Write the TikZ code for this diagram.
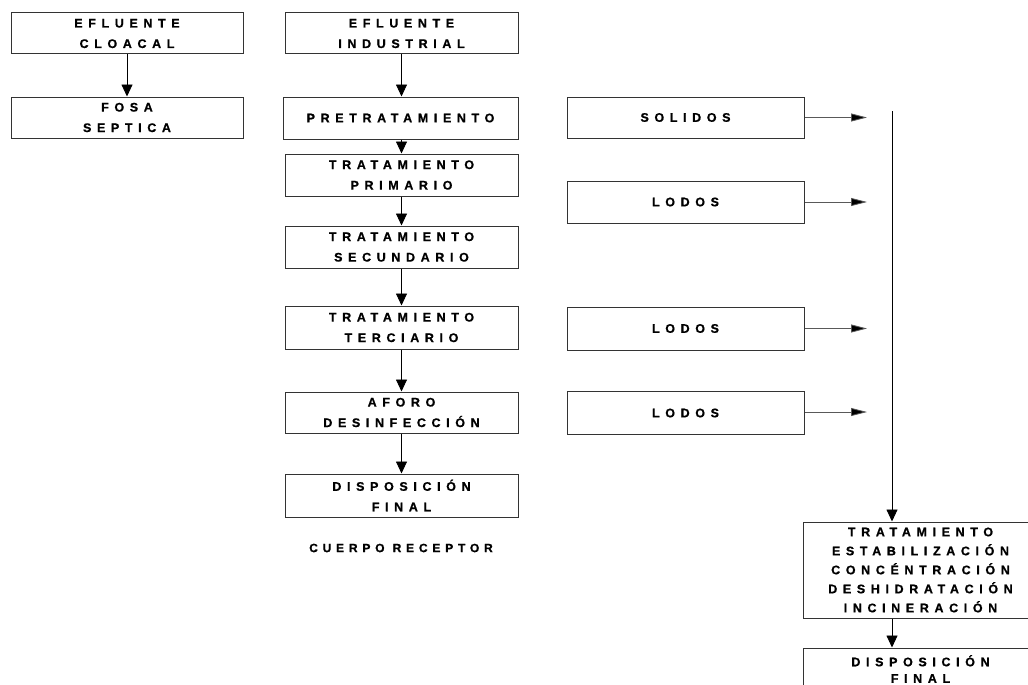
\documentclass[tikz,border=0pt]{standalone}
\usepackage{fontspec}
\usetikzlibrary{arrows.meta}
\newfontfamily\spacedfont{Liberation Sans}[UprightFont={* Bold}, LetterSpace=45, FakeBold=0.8]
\newfontfamily\notefont{Liberation Sans}[UprightFont={* Bold}, LetterSpace=40, FakeBold=0.8]
\tikzset{
  stage/.style={draw=black!80, line width=1pt, inner sep=0pt, align=center,
    minimum width=233pt, minimum height=42pt,
    font=\spacedfont\fontsize{12.5}{20.5}\selectfont},
  flow/.style={draw=black, line width=0.9pt, -{Triangle[length=12pt,width=11pt]}},
  side/.style={draw=black!65, line width=0.8pt, -{Triangle[length=16pt,width=8pt,fill=black]}},
  note/.style={inner sep=0pt, font=\notefont\fontsize{12}{14}\selectfont}
}
\begin{document}
\begin{tikzpicture}[x=1pt, y=-1pt]
  \useasboundingbox (0,0) rectangle (1028,685);
  \clip (0,0) rectangle (1028,685);

  % domestic branch
  \node[stage, minimum width=232pt, minimum height=41pt] (cloacal) at (127,33.5) {EFLUENTE\\CLOACAL};
  \node[stage, minimum width=232pt, minimum height=41pt] (fosa) at (127,117.5) {FOSA\\SEPTICA};

  % industrial treatment line
  \node[stage, minimum height=41pt] (industrial) at (401.5,33.5) {EFLUENTE\\INDUSTRIAL};
  \node[stage, minimum width=235pt] (pre) at (400.5,118) {PRETRATAMIENTO};
  \node[stage] (prim) at (401.5,175) {TRATAMIENTO\\PRIMARIO};
  \node[stage] (sec) at (401.5,247) {TRATAMIENTO\\SECUNDARIO};
  \node[stage, minimum height=43pt] (ter) at (401.5,327.5) {TRATAMIENTO\\TERCIARIO};
  \node[stage, minimum height=41pt] (afo) at (401.5,412.5) {AFORO\\DESINFECCIÓN};
  \node[stage, minimum height=43pt] (disp) at (401.5,495.5) {DISPOSICIÓN\\FINAL};
  \node[note] (cuerpo) at (401,548) {CUERPO RECEPTOR};

  % by-products
  \node[stage, minimum width=237pt, minimum height=41pt] (sol) at (685.5,117.5) {SOLIDOS};
  \node[stage, minimum width=237pt] (lod1) at (685.5,202) {LODOS};
  \node[stage, minimum width=237pt, minimum height=43pt] (lod2) at (685.5,328.5) {LODOS};
  \node[stage, minimum width=237pt, minimum height=43pt] (lod3) at (685.5,413) {LODOS};

  % sludge treatment
  \node[stage, minimum width=235pt, minimum height=96pt, font=\spacedfont\fontsize{12.5}{19}\selectfont] (trat) at (920.5,570)
    {TRATAMIENTO\\ESTABILIZACIÓN\\CONCÉNTRACIÓN\\DESHIDRATACIÓN\\INCINERACIÓN};
  \node[stage, minimum width=235pt, font=\spacedfont\fontsize{12.5}{16.5}\selectfont] (disp2) at (920.5,669) {DISPOSICIÓN\\FINAL};

  \coordinate (e1) at (867,117.5);
  \coordinate (e2) at (867,202);
  \coordinate (e3) at (867,328.5);
  \coordinate (e4) at (867,412);
  \coordinate (coltop) at (892,111);

  % connectors
  \draw[flow] (cloacal) -- (fosa);
  \draw[flow] (industrial) -- (industrial |- pre.north);
  \draw[flow] (pre.south -| prim) -- (prim);
  \draw[flow] (prim) -- (sec);
  \draw[flow] (sec) -- (ter);
  \draw[flow] (ter) -- (afo);
  \draw[flow] (afo) -- (disp);

  \draw[side] (sol.east) -- (e1);
  \draw[side] (lod1.east) -- (e2);
  \draw[side] (lod2.east |- e3) -- (e3);
  \draw[side] (lod3.east |- e4) -- (e4);

  \draw[flow] (coltop) -- (coltop |- trat.north);
  \draw[flow] (trat.south -| coltop) -- (disp2.north -| coltop);
\end{tikzpicture}
\end{document}
